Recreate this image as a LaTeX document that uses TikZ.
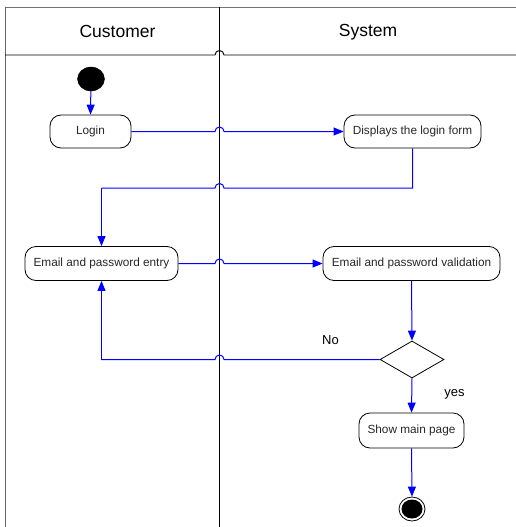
\documentclass[tikz,border=0pt]{standalone}
\usepackage{fontspec}
\setmainfont{Liberation Sans}
\usetikzlibrary{arrows.meta,shapes.geometric}
\tikzset{
  act/.style={draw=black, line width=0.8pt, rounded corners=11pt, inner sep=0pt,
    font=\fontsize{11.8}{14}\selectfont, text=black!85},
  flow/.style={draw=blue, line width=1pt, -{Triangle[length=10pt,width=8pt]}},
  flowplain/.style={draw=blue, line width=1pt},
  lane/.style={draw=black, line width=0.9pt},
  head/.style={font=\fontsize{17.5}{20}\selectfont, text=black},
  lbl/.style={font=\fontsize{13}{15}\selectfont, text=black},
}
\begin{document}
\begin{tikzpicture}[x=1pt,y=1pt]
\useasboundingbox (0,0) rectangle (515,-527);
% swimlane frame
\draw[draw=black!55, line width=1.6pt] (5,-7.5) -- (517,-7.5);
\draw[draw=black!60, line width=0.9pt] (5,-7) -- (5,-527);
\draw[lane] (219.5,-7) -- (219.5,-527);
\draw[lane] (5,-55) -- (215,-55) arc[start angle=180,end angle=0,radius=4.5] -- (517,-55);
\node[head] (hcust) at (117.5,-31) {Customer};
\node[head] (hsys) at (368,-32) {System};
% nodes
\node[ellipse, fill=black, draw=black, minimum width=27pt, minimum height=24pt, inner sep=0pt] (start) at (91,-79) {};
\node[act, minimum width=81pt, minimum height=33pt] (login) at (90.5,-131.5) {Login};
\node[act, minimum width=137pt, minimum height=33pt] (disp) at (412.5,-131.5) {Displays the login form};
\node[act, minimum width=153pt, minimum height=34pt] (entry) at (101.5,-263.5) {Email and password entry};
\node[act, minimum width=177pt, minimum height=34pt] (valid) at (411.5,-263.5) {Email and password validation};
\node[diamond, draw=black, line width=0.8pt, minimum width=64pt, minimum height=37pt, inner sep=0pt, aspect=1.73] (dec) at (412,-359.5) {};
\node[act, minimum width=105pt, minimum height=35pt] (main) at (411.5,-430.5) {Show main page};
\node[ellipse, draw=black, line width=0.8pt, minimum width=26pt, minimum height=24pt, inner sep=0pt] (end) at (412,-509) {};
\fill[black] (end.center) ellipse [x radius=10.5pt, y radius=9.5pt];
% labels
\node[lbl] (no) at (330.5,-340) {No};
\node[lbl] (yes) at (454.5,-394) {yes};
% hop coordinates
\coordinate (hl) at (215,0);
\coordinate (hr) at (224,0);
\coordinate (c1) at (412.5,-188);
\coordinate (c2) at (entry.north |- c1);
\coordinate (c3) at (entry.south |- dec.west);
% connectors
\draw[flow] (start) -- (login.north);
\draw[flow] (login.east) -- (hl |- login.east) arc[start angle=180,end angle=0,radius=4.5] -- (disp.west);
\draw[flowplain] (disp.south) -- (c1) -- (hr |- c1) arc[start angle=0,end angle=180,radius=4.5] -- (c2);
\draw[flow] (c2) -- (entry.north);
\draw[flow] (entry.east) -- (hl |- entry.east) arc[start angle=180,end angle=0,radius=4.5] -- (valid.west);
\draw[flow] (valid.south) -- (dec.north);
\draw[flowplain] (dec.west) -- (hr |- dec.west) arc[start angle=0,end angle=180,radius=4.5] -- (c3);
\draw[flow] (c3) -- (entry.south);
\draw[flow] (dec.south) -- (main.north);
\draw[flow] (main.south) -- (end.north);
\end{tikzpicture}
\end{document}
